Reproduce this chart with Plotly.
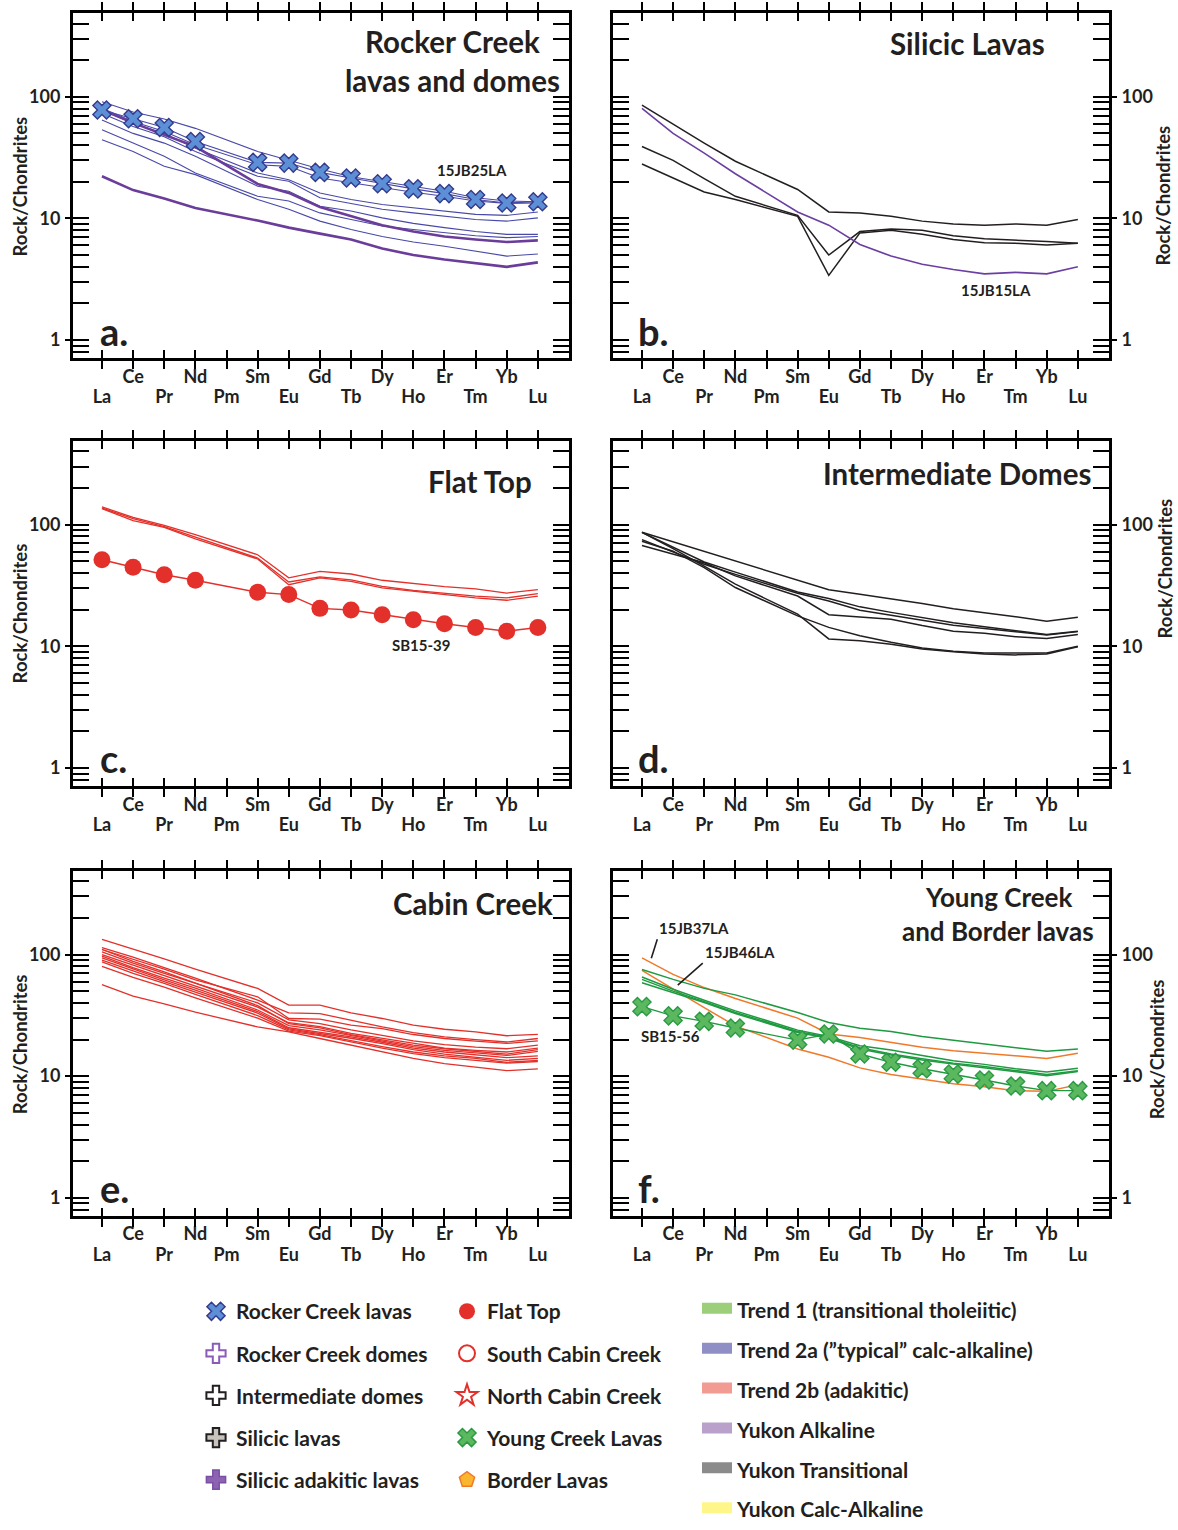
import math
import plotly.graph_objects as go

# ---------------- data ----------------
ELEMENTS = ["La", "Ce", "Pr", "Nd", "Pm", "Sm", "Eu", "Gd", "Tb", "Dy", "Ho", "Er", "Tm", "Yb", "Lu"]
REE = ["La", "Ce", "Pr", "Nd", "Sm", "Eu", "Gd", "Tb", "Dy", "Ho", "Er", "Tm", "Yb", "Lu"]
UPPER_ROW = ["Ce", "Nd", "Sm", "Gd", "Dy", "Er", "Yb"]
LOWER_ROW = ["La", "Pr", "Pm", "Eu", "Tb", "Ho", "Tm", "Lu"]
Y_TICKS = [1, 10, 100]
Y_MINOR = [0.8, 0.9, 2, 3, 4, 5, 6, 7, 8, 9, 20, 30, 40, 50, 60, 70, 80, 90, 200, 300, 400]

# a. Rocker Creek lavas and domes
A_15JB25LA = [77.8, 66, 55.9, 42.9, 28.9, 28.5, 23.9, 21.5, 19.3, 17.5, 16.0, 14.3, 13.4, 13.7]
A_THIN = [
    [91, 75, 65.6, 55, 35.5, 30, 25.5, 22, 20, 18.4, 16.7, 14.8, 13.9, 13.7],
    [80.3, 62.5, 51.8, 40.3, 27.6, 26.8, 21.5, 19.6, 17.8, 16.4, 15.2, 13.9, 13.3, 13.4],
    [78, 60.5, 50, 37.8, 23.6, 20.8, 16.2, 14.3, 13, 12.2, 11.5, 10.8, 10.6, 11.3],
    [73, 57, 47, 35.5, 22.2, 20.2, 14.8, 13.3, 11.9, 11.1, 10.4, 9.8, 9.5, 10.1],
    [64.4, 50, 41.6, 32.4, 18.4, 16.7, 12.6, 11.5, 10.1, 9.1, 8.4, 7.8, 7.4, 7.4],
    [53.5, 41.6, 32.4, 23.6, 15.2, 13.9, 11.1, 9.8, 8.65, 8.1, 7.6, 7.2, 6.95, 7.1],
    [44.3, 35.5, 26.8, 22.9, 14.3, 11.9, 9.5, 8.1, 7.1, 6.4, 5.9, 5.4, 4.9, 5.1],
]
A_THICK = [
    [78, 61, 48.6, 39, 19.2, 16.2, 12.4, 10.4, 8.8, 7.8, 7.1, 6.7, 6.4, 6.6],
    [22.2, 17.1, 14.6, 12.2, 9.6, 8.4, 7.5, 6.7, 5.65, 5.0, 4.6, 4.3, 4.0, 4.35],
]

# b. Silicic lavas
B_BLACK = [
    [85.5, 59.5, 41.6, 29.5, 17.3, 11.3, 11.1, 10.4, 9.5, 9.0, 8.8, 9.0, 8.8, 9.8],
    [39, 30, 21.2, 15.2, 10.6, 5.0, 7.8, 8.2, 8.0, 7.2, 6.8, 6.65, 6.45, 6.25],
    [28, 21.5, 16.5, 14.3, 10.4, 3.4, 7.6, 8.0, 7.4, 6.7, 6.3, 6.25, 6.05, 6.25],
]
B_15JB15LA = [80.3, 50, 34.4, 23.3, 11.3, 8.8, 6.1, 4.9, 4.2, 3.8, 3.5, 3.6, 3.5, 4.0]

# c. Flat Top
C_SB15_39 = [51.5, 44.6, 38.8, 34.9, 27.8, 26.6, 20.5, 19.9, 18.2, 16.5, 15.3, 14.3, 13.3, 14.3]
C_LINES = [
    [140, 115, 98.8, 82.8, 56.6, 36.5, 41.3, 39.3, 34.9, 32.7, 30.9, 29.6, 27.4, 29.2],
    [137, 112, 96.3, 79.3, 53.2, 33.8, 37.2, 35.1, 31.1, 28.8, 27.4, 25.8, 25.0, 27.1],
    [135.5, 108, 95, 76.3, 52.2, 32.1, 36.5, 34.2, 30.2, 28.3, 26.6, 25.0, 23.9, 25.8],
]

# d. Intermediate domes
D_LINES = [
    [86.5, 72.2, 60.4, 50.4, 35.1, 29.2, 26.8, 24.7, 22.5, 20.4, 19.0, 17.5, 16.1, 17.3],
    [86.5, 65.3, 49.3, 40.7, 28.0, 24.7, 21.1, 19.0, 17.3, 15.6, 14.5, 13.4, 12.5, 13.3],
    [75.4, 59.8, 47.2, 39.0, 27.3, 23.6, 19.8, 18.0, 16.4, 14.9, 14.0, 13.2, 12.4, 13.2],
    [67.3, 57.5, 48.6, 37.9, 25.9, 18.2, 17.5, 16.7, 14.8, 13.3, 12.8, 12.0, 11.6, 12.5],
    [73, 60.5, 44.3, 30.4, 17.8, 14.3, 12.2, 10.8, 9.7, 9.1, 8.8, 8.8, 8.8, 10.0],
    [86.5, 63.6, 45.6, 32.4, 18.4, 11.5, 11.1, 10.4, 9.5, 9.0, 8.65, 8.5, 8.65, 9.9],
]

# e. Cabin Creek
E_LINES = [
    [133, 111, 92, 76, 52.6, 38.4, 38.4, 33.2, 29.8, 26.3, 24.3, 23.1, 21.5, 22.1],
    [114, 95, 78, 64, 42.2, 33.2, 32.7, 28.8, 25.4, 22.8, 21.0, 20.0, 19.1, 20.4],
    [110, 92, 76, 62, 44.9, 29.8, 29.4, 26.3, 24.6, 22.0, 20.4, 19.4, 18.6, 19.5],
    [110, 88, 72, 58, 38, 27, 25, 22, 20, 18, 16.8, 16.0, 15.2, 16.5],
    [105, 85, 70, 58, 40, 29, 27, 24, 21.5, 19.5, 18.2, 17.3, 16.8, 18.0],
    [100, 82, 67, 55, 37, 27.5, 25.5, 22.5, 20.5, 18.5, 17.0, 16.3, 15.8, 17.0],
    [97, 78, 64, 53, 35, 26, 24, 21.5, 19.5, 17.5, 16.3, 15.5, 14.8, 16.0],
    [94, 76, 62, 51, 34, 25, 23, 21, 19, 17, 15.8, 15.0, 14.2, 14.7],
    [90, 73, 60, 49, 33, 24.5, 22.5, 20.5, 18.5, 16.5, 15.2, 14.4, 13.5, 14.0],
    [87, 70, 58, 47, 31.5, 24, 22, 19.5, 17.5, 15.8, 14.7, 14.0, 13.0, 13.5],
    [80, 65, 54, 44, 30, 23.5, 21.5, 19, 17, 15.3, 14.2, 13.5, 12.8, 13.2],
    [56.6, 45.5, 39.3, 33.6, 25.4, 23.1, 20.4, 18, 15.9, 14.0, 12.7, 11.9, 11.1, 11.5],
]

# f. Young Creek and Border lavas
F_SB15_56 = [37.3, 31.3, 28.2, 24.9, 19.8, 22.2, 15.2, 13.0, 11.5, 10.4, 9.3, 8.3, 7.6, 7.6]
F_GREEN = [
    [75.4, 62.5, 52.7, 46.6, 33.4, 27.6, 24.8, 23.3, 21.2, 19.8, 18.6, 17.3, 16.0, 16.7],
    [65.3, 51.8, 42.1, 34.4, 23.9, 21.2, 17.8, 16.4, 14.8, 13.4, 12.5, 11.5, 10.8, 11.6],
    [62.5, 50, 41, 33.4, 23.3, 20.8, 17.1, 15.2, 13.9, 12.8, 12.0, 11.1, 10.3, 11.1],
    [58.7, 48.6, 40.3, 32.7, 22.9, 20.5, 16.7, 14.9, 13.6, 12.6, 11.7, 10.8, 10.1, 10.9],
]
F_ORANGE = [
    [94, 68.7, 53.5, 43.5, 30, 22.2, 20.8, 19.0, 17.3, 16.2, 15.5, 14.8, 14.0, 15.4],
    [74, 51.8, 36.6, 25.9, 16.7, 14.3, 11.7, 10.3, 9.4, 8.65, 8.2, 7.6, 7.5, 8.5],
]

PANEL_TITLES = [
    ["Rocker Creek", "lavas and domes"],
    ["Silicic Lavas"],
    ["Flat Top"],
    ["Intermediate Domes"],
    ["Cabin Creek"],
    ["Young Creek", "and Border lavas"],
]
PANEL_LETTERS = ["a.", "b.", "c.", "d.", "e.", "f."]
Y_TITLE = "Rock/Chondrites"

LEGEND1 = ["Rocker Creek lavas", "Rocker Creek domes", "Intermediate domes", "Silicic lavas", "Silicic adakitic lavas"]
LEGEND2 = ["Flat Top", "South Cabin Creek", "North Cabin Creek", "Young Creek Lavas", "Border Lavas"]
LEGEND3 = ["Trend 1 (transitional tholeiitic)", "Trend 2a (\u201dtypical\u201d calc-alkaline)", "Trend 2b (adakitic)",
           "Yukon Alkaline", "Yukon Transitional", "Yukon Calc-Alkaline"]

# ---------------- styling ----------------
W, H = 1178, 1530
FONT = "Lato"
INK = "#231f20"
BLUE_THIN = "#4848a8"
PURPLE = "#6a3d9a"
XBLUE = "#5d8fd6"
XBLUE_EDGE = "#363a8c"
RED = "#e3302a"
GREEN = "#1f9a40"
XGREEN = "#5cb85f"
XGREEN_EDGE = "#2a9a45"
ORANGE = "#f07a2a"

# panel frames in pixels: (left, right, top, bottom, label side)
PANELS = [
    (73, 569, 13, 359, "left"), (613, 1109, 13, 359, "right"),
    (73, 569, 442, 788, "left"), (613, 1109, 442, 788, "right"),
    (73, 569, 873, 1219, "left"), (613, 1109, 873, 1219, "right"),
]
XRANGE = [-0.93, 15.0]
YRANGE = [-0.148, 2.689]

fig = go.Figure()


def ax_name(kind, i):
    return kind if i == 1 else f"{kind}{i}"


def ref(kind, i):
    return kind[0] if i == 1 else f"{kind[0]}{i}"


def add_line(panel, vals, color, width, name="", marker=None):
    kw = {}
    if marker:
        kw["marker"] = marker
        mode = "lines+markers"
    else:
        mode = "lines"
    fig.add_trace(go.Scatter(
        x=REE, y=vals, mode=mode, line=dict(color=color, width=width),
        xaxis=ref("x", panel), yaxis=ref("y", panel), showlegend=False, name=name,
        hoverinfo="skip", **kw))


# panel a
for v in A_THIN:
    add_line(1, v, BLUE_THIN, 1.1)
for v in A_THICK:
    add_line(1, v, PURPLE, 2.6)
add_line(1, A_15JB25LA, BLUE_THIN, 1.1, "15JB25LA",
         dict(symbol="x", size=16, color=XBLUE, line=dict(color=XBLUE_EDGE, width=1.4)))
# panel b
for v in B_BLACK:
    add_line(2, v, INK, 1.5)
add_line(2, B_15JB15LA, "#6b3fa0", 1.6, "15JB15LA")
# panel c
for v in C_LINES:
    add_line(3, v, RED, 1.3)
add_line(3, C_SB15_39, RED, 1.5, "SB15-39", dict(symbol="circle", size=17, color=RED, line=dict(width=0)))
# panel d
for v in D_LINES:
    add_line(4, v, INK, 1.5)
# panel e
for v in E_LINES:
    add_line(5, v, RED, 1.3)
# panel f
for v in F_ORANGE:
    add_line(6, v, ORANGE, 1.5)
for v in F_GREEN:
    add_line(6, v, GREEN, 1.5)
add_line(6, F_SB15_56, GREEN, 1.4, "SB15-56",
         dict(symbol="x", size=16, color=XGREEN, line=dict(color=XGREEN_EDGE, width=1.4)))

# empty traces so the label-only overlay axes get drawn
for i in range(1, 7):
    fig.add_trace(go.Scatter(x=[None], y=[None], xaxis=ref("x", 6 + i), yaxis=ref("y", i),
                             showlegend=False, hoverinfo="skip"))
    fig.add_trace(go.Scatter(x=[None], y=[None], xaxis=ref("x", i), yaxis=ref("y", 6 + i),
                             showlegend=False, hoverinfo="skip"))

# ---------------- legends ----------------
leg1_markers = [
    dict(symbol="x", size=16, color=XBLUE, line=dict(color=XBLUE_EDGE, width=1.5)),
    dict(symbol="cross", size=16, color="white", line=dict(color="#8a5cb8", width=2)),
    dict(symbol="cross", size=16, color="white", line=dict(color=INK, width=2)),
    dict(symbol="cross", size=16, color="#c9c3bd", line=dict(color=INK, width=2)),
    dict(symbol="cross", size=16, color="#8d62b3", line=dict(color="#7a4fa3", width=1.5)),
]
leg2_markers = [
    dict(symbol="circle", size=16, color=RED, line=dict(width=0)),
    dict(symbol="circle-open", size=16, color=RED, line=dict(color=RED, width=2)),
    dict(symbol="star-open", size=16, color=RED, line=dict(color=RED, width=2)),
    dict(symbol="x", size=16, color=XGREEN, line=dict(color=XGREEN_EDGE, width=1.5)),
    dict(symbol="pentagon", size=16, color="#fbb62f", line=dict(color=ORANGE, width=1.5)),
]
leg3_colors = ["#9dcf7a", "#8f8fc6", "#f29b93", "#b9a1cc", "#8b8b8b", "#fff68a"]

for name, mk in zip(LEGEND1, leg1_markers):
    fig.add_trace(go.Scatter(x=[None], y=[None], mode="markers", marker=mk, name=name,
                             legend="legend", legendgroup=name, showlegend=True))
for name, mk in zip(LEGEND2, leg2_markers):
    fig.add_trace(go.Scatter(x=[None], y=[None], mode="markers", marker=mk, name=name,
                             legend="legend2", legendgroup=name, showlegend=True))
for name, col in zip(LEGEND3, leg3_colors):
    fig.add_trace(go.Scatter(x=[None], y=[None], mode="lines", fill="toself", fillcolor=col,
                             line=dict(color=col, width=12), name=name,
                             legend="legend3", legendgroup=name, showlegend=True))

# ---------------- axes ----------------
layout = {}
tickfont = dict(family=FONT, size=18, color=INK, weight="bold")
for i, (l, r, t, b, side) in enumerate(PANELS, start=1):
    xdom = [l / W, r / W]
    ydom = [1 - b / H, 1 - t / H]
    layout[ax_name("xaxis", i)] = dict(
        domain=xdom, anchor=ref("y", i), type="category",
        categoryorder="array", categoryarray=ELEMENTS, range=XRANGE,
        tickmode="array", tickvals=ELEMENTS,
        ticktext=[e if e in UPPER_ROW else "" for e in ELEMENTS],
        ticks="inside", ticklen=8, tickwidth=2, tickcolor="black",
        mirror="allticks", showline=True, linewidth=3, linecolor="black",
        showgrid=False, zeroline=False, tickfont=tickfont, ticklabelstandoff=0,
    )
    layout[ax_name("xaxis", 6 + i)] = dict(
        overlaying=ref("x", i), anchor=ref("y", i), side="bottom", type="linear",
        range=XRANGE, tickmode="array",
        tickvals=[ELEMENTS.index(e) for e in LOWER_ROW], ticktext=LOWER_ROW,
        ticks="", showline=False, showgrid=False, zeroline=False,
        tickfont=tickfont, ticklabelstandoff=26,
    )
    layout[ax_name("yaxis", i)] = dict(
        domain=ydom, anchor=ref("x", i), type="log", range=YRANGE,
        tickmode="array", tickvals=Y_TICKS, showticklabels=False,
        ticks="inside", ticklen=16, tickwidth=2, tickcolor="black",
        minor=dict(tickmode="array", tickvals=Y_MINOR, ticks="inside", ticklen=9,
                   tickwidth=1.6, tickcolor="black", showgrid=False),
        mirror="allticks", showline=True, linewidth=3, linecolor="black",
        showgrid=False, zeroline=False,
    )
    layout[ax_name("yaxis", 6 + i)] = dict(
        overlaying=ref("y", i), anchor=ref("x", i), side=side, type="log", range=YRANGE,
        tickmode="array", tickvals=Y_TICKS, ticktext=[str(v) for v in Y_TICKS],
        ticks="outside", ticklen=7, tickwidth=2, tickcolor="black",
        showline=False, showgrid=False, zeroline=False, tickfont=tickfont,
        ticklabelstandoff=1,
    )

# ---------------- annotations ----------------
ann = []


def txt(text, px, py, size, xanchor="center", yanchor="middle", angle=0):
    ann.append(dict(text=text, x=px / W, y=1 - py / H, xref="paper", yref="paper",
                    xanchor=xanchor, yanchor=yanchor, showarrow=False, textangle=angle,
                    font=dict(family=FONT, size=size, color=INK, weight="bold")))


title_pos = [
    [(452, 42), (452, 81)], [(967, 44)], [(480, 483)], [(957, 475)], [(473, 906)], [(998, 899), (998, 933)],
]
title_size = [29.5, 29.5, 29.5, 29.5, 29.5, 26]
for lines, poss, sz in zip(PANEL_TITLES, title_pos, title_size):
    for s, (px, py) in zip(lines, poss):
        txt(s, px, py, sz)

letter_pos = [(98, 332), (636, 332), (98, 760), (636, 760), (98, 1191), (636, 1191)]
for s, (px, py) in zip(PANEL_LETTERS, letter_pos):
    txt(s, px, py, 38, xanchor="left")

ytitle_pos = [(20, 187), (1163, 196), (20, 615), (1165, 570), (20, 1047), (1157, 1052)]
for px, py in ytitle_pos:
    txt(Y_TITLE, px, py, 18.5, angle=-90)

txt("15JB25LA", 472, 170, 15)
txt("15JB15LA", 996, 291, 15)
txt("SB15-39", 421, 647, 15)
txt("SB15-56", 670, 1039, 15)

for label, xv, yv, axp, ayp in [("15JB37LA", 0.3, 93, 6, -19), ("15JB46LA", 1.15, 56, 25, -22)]:
    ann.append(dict(text=label, x=xv, y=math.log10(yv), xref="x6", yref="y6",
                    showarrow=True, arrowhead=0, arrowwidth=1.6, arrowcolor=INK,
                    ax=axp, ay=ayp, xanchor="left", yanchor="bottom", standoff=0,
                    font=dict(family=FONT, size=15, color=INK, weight="bold")))

legfont = dict(family=FONT, size=21, color=INK, weight="bold")
layout.update(
    width=W, height=H, margin=dict(l=0, r=0, t=0, b=0),
    paper_bgcolor="white", plot_bgcolor="white",
    font=dict(family=FONT, color=INK),
    annotations=ann,
    legend=dict(x=196 / W, y=1 - 1294.5 / H, xanchor="left", yanchor="top", font=legfont,
                bgcolor="rgba(0,0,0,0)", tracegroupgap=11.8, traceorder="grouped"),
    legend2=dict(x=447 / W, y=1 - 1294.5 / H, xanchor="left", yanchor="top", font=legfont,
                 bgcolor="rgba(0,0,0,0)", tracegroupgap=11.8, traceorder="grouped"),
    legend3=dict(x=697 / W, y=1 - 1293 / H, xanchor="left", yanchor="top", font=legfont,
                 bgcolor="rgba(0,0,0,0)", tracegroupgap=9.6, traceorder="grouped"),
)
fig.update_layout(layout)
fig.write_html("out.html")
